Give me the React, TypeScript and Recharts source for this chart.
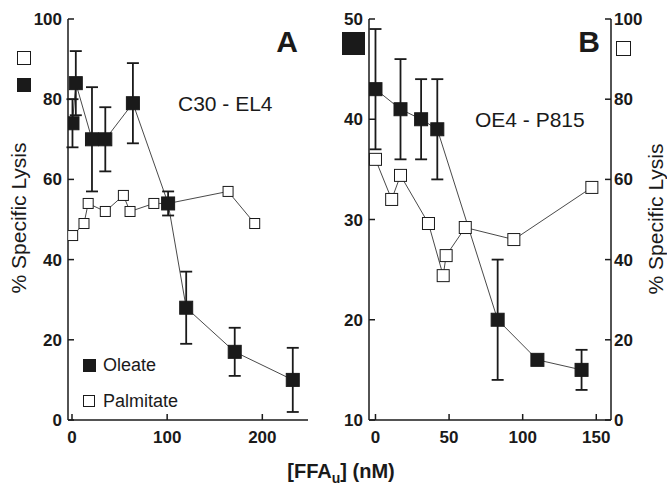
import { LineChart, Line, XAxis, YAxis, ErrorBar } from 'recharts'

// Panel A (C30 - EL4), % specific lysis 0-100 on both sides
const aOleateX = [0.5, 4, 21, 35, 64, 101, 120, 171, 232]
const aOleateY = [74, 84, 70, 70, 79, 54, 28, 17, 10]
const aOleateErr = [6, 8, 13, 8, 10, 3, 9, 6, 8]
const aPalmX = [0.7, 12.6, 17, 35, 54, 61, 86, 101, 164, 192]
const aPalmY = [46, 49, 54, 52, 56, 52, 54, 54, 57, 49]
const aXTicks = [0, 100, 200]
const aYTicks = [0, 20, 40, 60, 80, 100]

// Panel B (OE4 - P815): oleate on left axis 10-50, palmitate on right axis 0-100
const bOleateX = [0, 17, 31, 42, 83, 110, 140]
const bOleateY = [43, 41, 40, 39, 20, 16, 15]
const bOleateErr = [6, 5, 4, 5, 6, 0, 2]
const bPalmX = [0, 11, 17, 36, 46, 48, 61, 94, 147]
const bPalmY = [65, 55, 61, 49, 36, 41, 48, 45, 58]
const bXTicks = [0, 50, 100, 150]
const bLeftTicks = [10, 20, 30, 40, 50]
const bRightTicks = [0, 20, 40, 60, 80, 100]

const INK = '#1a1a1a'
const FONT = '"Liberation Sans", Arial, sans-serif'

const aOleate = aOleateX.map((x, i) => ({ x, y: aOleateY[i], err: [aOleateErr[i], aOleateErr[i]] }))
const aPalm = aPalmX.map((x, i) => ({ x, y: aPalmY[i] }))
const bOleate = bOleateX.map((x, i) => ({ x, y: bOleateY[i], err: [bOleateErr[i], bOleateErr[i]] }))
const bPalm = bPalmX.map((x, i) => ({ x, y: bPalmY[i] }))

const square = (size: number, filled: boolean) => (props: any) => {
  const { cx, cy, index } = props
  if (cx == null || cy == null) return <g key={index} />
  return (
    <rect
      key={index}
      x={cx - size / 2}
      y={cy - size / 2}
      width={size}
      height={size}
      fill={filled ? INK : '#fff'}
      stroke={INK}
      strokeWidth={1}
    />
  )
}

const tickFont = { fontSize: 17, fontWeight: 700, fill: INK, fontFamily: FONT }
const axisLine = { stroke: INK, strokeWidth: 1.5 }
const tickLine = { stroke: INK, strokeWidth: 1.5 }
const blank = () => ''

function Box({ x, y, size, filled }: { x: number; y: number; size: number; filled: boolean }) {
  return (
    <div
      style={{
        position: 'absolute',
        left: x - size / 2,
        top: y - size / 2,
        width: size,
        height: size,
        boxSizing: 'border-box',
        background: filled ? INK : '#fff',
        border: `1px solid ${INK}`,
      }}
    />
  )
}

function Txt({ x, y, size, bold, children, anchor = 'left' }: any) {
  return (
    <div
      style={{
        position: 'absolute',
        left: x,
        top: y,
        transform: `translate(${anchor === 'center' ? '-50%' : anchor === 'right' ? '-100%' : '0'}, -50%)`,
        fontFamily: FONT,
        fontSize: size,
        fontWeight: bold ? 700 : 400,
        color: INK,
        whiteSpace: 'nowrap',
        lineHeight: 1,
      }}
    >
      {children}
    </div>
  )
}

function VLabel({ x, y }: { x: number; y: number }) {
  return (
    <div
      style={{
        position: 'absolute',
        left: x,
        top: y,
        transform: 'translate(-50%, -50%) rotate(-90deg)',
        fontFamily: FONT,
        fontSize: 21,
        color: INK,
        whiteSpace: 'nowrap',
        lineHeight: 1,
      }}
    >
      % Specific Lysis
    </div>
  )
}

export default function App() {
  return (
    <div style={{ position: 'absolute', left: 0, top: 0, width: 667, height: 489, background: '#fff', overflow: 'hidden' }}>
      {/* Panel A */}
      <div style={{ position: 'absolute', left: 0, top: 0 }}>
        <LineChart width={340} height={489} margin={{ top: 19, right: 32, bottom: 39, left: 0 }}>
          <XAxis
            xAxisId="bottom"
            type="number"
            dataKey="x"
            domain={[-4.2, 248]}
            allowDataOverflow
            ticks={aXTicks}
            height={30}
            tickSize={-6}
            tickMargin={17}
            tick={tickFont}
            axisLine={axisLine}
            tickLine={tickLine}
          />
          <XAxis
            xAxisId="top"
            orientation="top"
            type="number"
            dataKey="x"
            domain={[-4.2, 248]}
            allowDataOverflow
            ticks={aXTicks}
            height={0}
            tickSize={-6}
            tickFormatter={blank}
            axisLine={axisLine}
            tickLine={tickLine}
          />
          <YAxis
            yAxisId="left"
            type="number"
            domain={[0, 100]}
            allowDataOverflow
            ticks={aYTicks}
            width={68}
            tickSize={-6}
            tickMargin={12}
            tick={tickFont}
            axisLine={axisLine}
            tickLine={tickLine}
          />
          <YAxis
            yAxisId="right"
            orientation="right"
            type="number"
            domain={[0, 100]}
            allowDataOverflow
            ticks={aYTicks}
            width={0}
            tickSize={-6}
            tickFormatter={blank}
            axisLine={axisLine}
            tickLine={tickLine}
          />
          <Line
            data={aPalm}
            xAxisId="top"
            yAxisId="right"
            dataKey="y"
            stroke={INK}
            strokeWidth={0.8}
            dot={square(10, false)}
            activeDot={false}
            isAnimationActive={false}
          />
          <Line
            data={aOleate}
            xAxisId="bottom"
            yAxisId="left"
            dataKey="y"
            stroke={INK}
            strokeWidth={0.8}
            dot={square(13, true)}
            activeDot={false}
            isAnimationActive={false}
          >
            <ErrorBar dataKey="err" direction="y" width={6} stroke={INK} strokeWidth={1.8} />
          </Line>
        </LineChart>
      </div>

      {/* Panel B */}
      <div style={{ position: 'absolute', left: 330, top: 0 }}>
        <LineChart width={337} height={489} margin={{ top: 19, right: 0, bottom: 39, left: 0 }}>
          <XAxis
            xAxisId="bottom"
            type="number"
            dataKey="x"
            domain={[-4.4, 160]}
            allowDataOverflow
            ticks={bXTicks}
            height={30}
            tickSize={-6}
            tickMargin={17}
            tick={tickFont}
            axisLine={axisLine}
            tickLine={tickLine}
          />
          <XAxis
            xAxisId="top"
            orientation="top"
            type="number"
            dataKey="x"
            domain={[-4.4, 160]}
            allowDataOverflow
            ticks={bXTicks}
            height={0}
            tickSize={-6}
            tickFormatter={blank}
            axisLine={axisLine}
            tickLine={tickLine}
          />
          <YAxis
            yAxisId="left"
            type="number"
            domain={[10, 50]}
            allowDataOverflow
            ticks={bLeftTicks}
            width={39}
            tickSize={-6}
            tickMargin={12}
            tick={tickFont}
            axisLine={axisLine}
            tickLine={tickLine}
          />
          <YAxis
            yAxisId="right"
            orientation="right"
            type="number"
            domain={[0, 100]}
            allowDataOverflow
            ticks={bRightTicks}
            width={56}
            tickSize={-6}
            tickMargin={9}
            tick={tickFont}
            axisLine={axisLine}
            tickLine={tickLine}
          />
          <Line
            data={bPalm}
            xAxisId="top"
            yAxisId="right"
            dataKey="y"
            stroke={INK}
            strokeWidth={0.8}
            dot={square(12, false)}
            activeDot={false}
            isAnimationActive={false}
          />
          <Line
            data={bOleate}
            xAxisId="bottom"
            yAxisId="left"
            dataKey="y"
            stroke={INK}
            strokeWidth={0.8}
            dot={square(13, true)}
            activeDot={false}
            isAnimationActive={false}
          >
            <ErrorBar dataKey="err" direction="y" width={6} stroke={INK} strokeWidth={1.8} />
          </Line>
        </LineChart>
      </div>

      {/* axis-side series keys */}
      <Box x={24} y={58} size={14} filled={false} />
      <Box x={24} y={85} size={14} filled />
      <Box x={353} y={43} size={23} filled />
      <Box x={623} y={48} size={15} filled={false} />

      <VLabel x={18} y={218} />
      <VLabel x={655} y={219} />

      <Txt x={298} y={42} size={30} bold anchor="right">A</Txt>
      <Txt x={600} y={42} size={30} bold anchor="right">B</Txt>
      <Txt x={178} y={103} size={21}>C30 - EL4</Txt>
      <Txt x={475} y={119} size={21}>OE4 - P815</Txt>

      {/* legend, panel A */}
      <Box x={89} y={365} size={13} filled />
      <Txt x={103} y={365} size={18}>Oleate</Txt>
      <Box x={89} y={401} size={12} filled={false} />
      <Txt x={103} y={401} size={18}>Palmitate</Txt>

      <Txt x={341} y={473} size={20} bold anchor="center">
        [FFA<sub style={{ fontSize: 14, verticalAlign: '-0.35em' }}>u</sub>] (nM)
      </Txt>
    </div>
  )
}
